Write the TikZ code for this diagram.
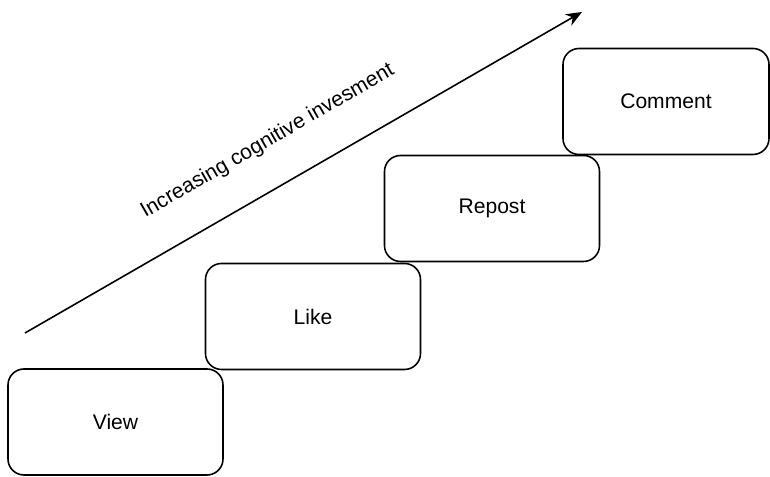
\documentclass[tikz,border=0pt]{standalone}
\usepackage{fontspec}
\setmainfont{Liberation Sans}
\usetikzlibrary{arrows.meta}
\usetikzlibrary{positioning, calc}

\begin{document}
\begin{tikzpicture}[
    stage/.style={draw, line width=0.9pt, rounded corners=0.32cm, minimum width=4.3cm, minimum height=2.12cm, font=\fontsize{12}{14}\selectfont},
    trend/.style={line width=0.9pt, -{Stealth[length=0.32cm, width=0.26cm]}},
    caption/.style={font=\fontsize{12}{14}\selectfont}
]
    \useasboundingbox (0,0) rectangle (15.4,9.54);

    \draw (2.31,1.10) node[stage] (view) {View};
    \draw (view) ++(3.95,2.11) node[stage] (like) {Like};
    \draw (like) ++(3.58,2.16) node[stage] (repost) {Repost};
    \draw (repost) ++(3.48,2.14) node[stage, minimum width=4.12cm] (comment) {Comment};

    \draw (0.5,2.88) coordinate (low);
    \draw (11.64,9.3) coordinate (high);
    \draw[trend] (low) -- node[caption, sloped, pos=.476, above=.57cm] (trendlabel) {Increasing cognitive invesment} (high);
\end{tikzpicture}
\end{document}
